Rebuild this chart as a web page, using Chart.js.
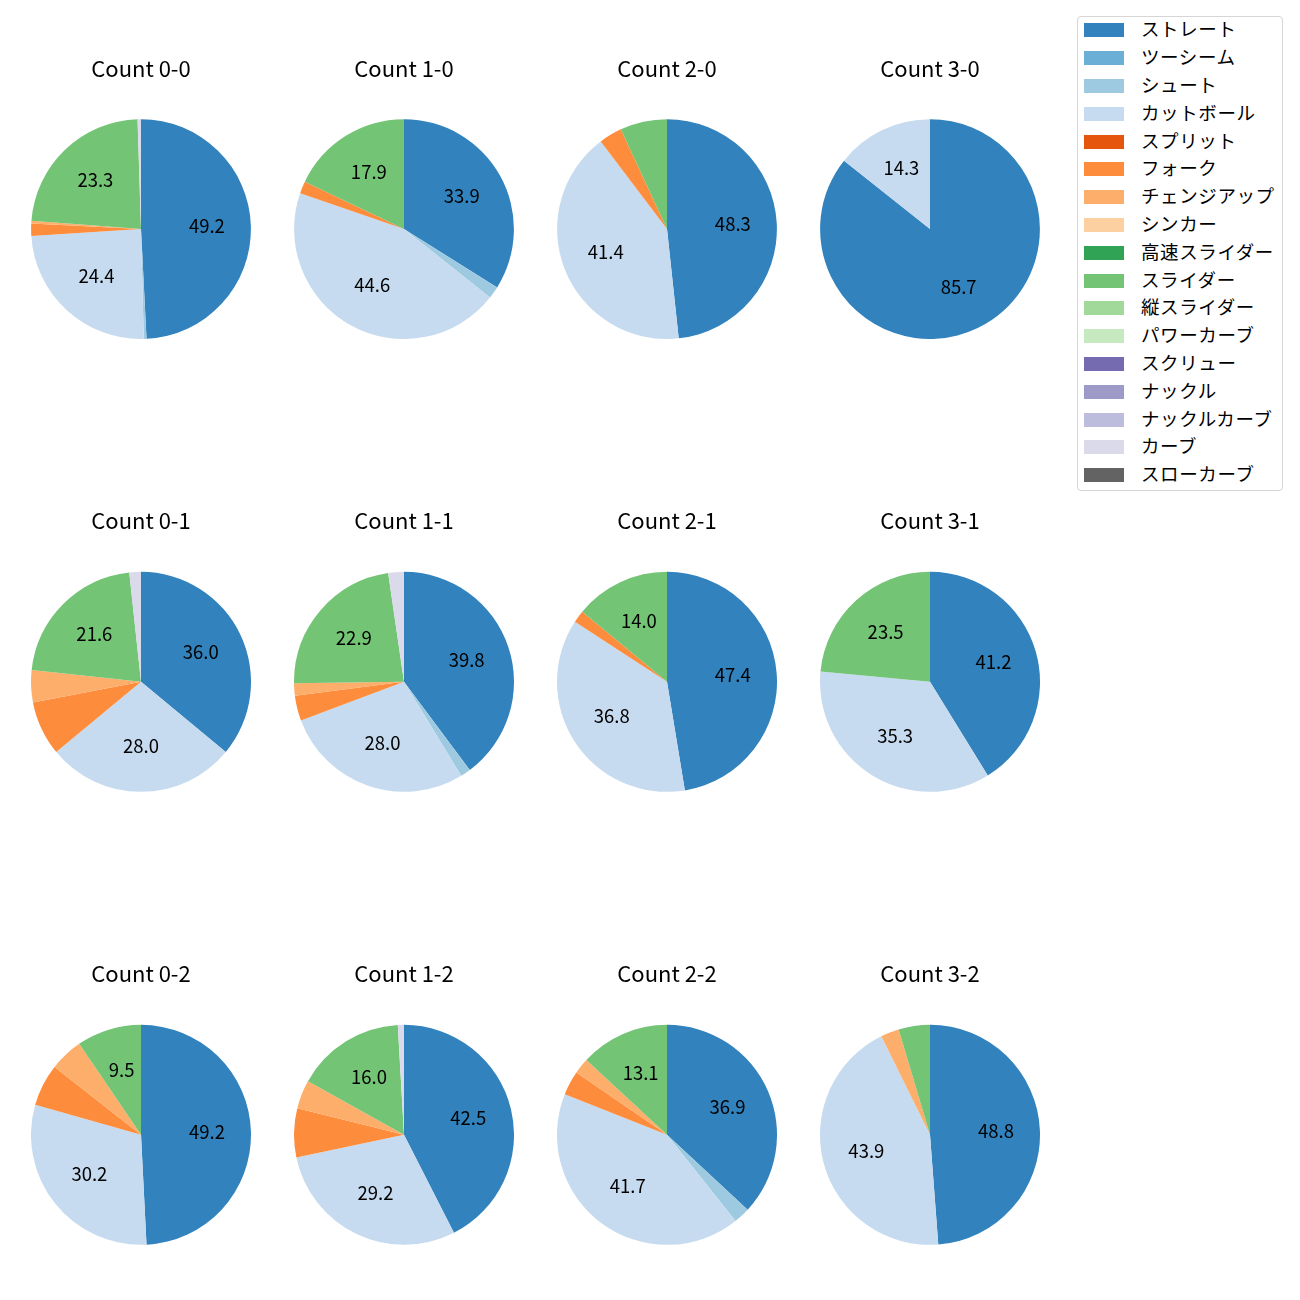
<!DOCTYPE html>
<html>
<head>
<meta charset="utf-8">
<script src="https://cdn.jsdelivr.net/npm/chart.js@4"></script>
<style>
  html, body { margin: 0; padding: 0; background: #fff; }
  body { width: 1300px; height: 1300px; position: relative; overflow: hidden;
         font-family: "Noto Sans CJK JP", "Noto Sans", sans-serif; }
  .pie { position: absolute; }
  #legend { position: absolute; left: 1077px; top: 16px; width: 204px; height: 473px;
            border: 1px solid #d6d6d6; border-radius: 4px; background: #fff; }
  .lrow { position: absolute; left: 0; height: 0; }
  .sw { position: absolute; left: 6px; width: 40px; height: 14px; top: -7px; }
  .lt { position: absolute; left: 63px; top: -16px; height: 28px; line-height: 28px;
        font-size: 18.5px; letter-spacing: 0.6px; color: #000; white-space: nowrap; }
</style>
</head>
<body>
<div id="legend"></div>
<script>
// ---- data ----
const pitchTypes = ["ストレート","ツーシーム","シュート","カットボール","スプリット","フォーク","チェンジアップ","シンカー","高速スライダー","スライダー","縦スライダー","パワーカーブ","スクリュー","ナックル","ナックルカーブ","カーブ","スローカーブ"];
const pitchColors = ["#3182bd","#6baed6","#9ecae1","#c6dbef","#e6550d","#fd8d3c","#fdae6b","#fdd0a2","#31a354","#74c476","#a1d99b","#c7e9c0","#756bb1","#9e9ac8","#bcbddc","#dadaeb","#636363"];
const countTitles = ["Count 0-0","Count 1-0","Count 2-0","Count 3-0","Count 0-1","Count 1-1","Count 2-1","Count 3-1","Count 0-2","Count 1-2","Count 2-2","Count 3-2"];
const count00 = [49.2,0,0.4,24.4,0,1.8,0.4,0,0,23.3,0,0,0,0,0,0.5,0];
const count10 = [33.9,0,1.8,44.6,0,1.8,0,0,0,17.9,0,0,0,0,0,0,0];
const count20 = [48.3,0,0,41.4,0,3.4,0,0,0,6.9,0,0,0,0,0,0,0];
const count30 = [85.7,0,0,14.3,0,0,0,0,0,0,0,0,0,0,0,0,0];
const count01 = [36.0,0,0,28.0,0,8.0,4.7,0,0,21.6,0,0,0,0,0,1.7,0];
const count11 = [39.8,0,1.5,28.0,0,3.7,1.8,0,0,22.9,0,0,0,0,0,2.3,0];
const count21 = [47.4,0,0,36.8,0,1.8,0,0,0,14.0,0,0,0,0,0,0,0];
const count31 = [41.2,0,0,35.3,0,0,0,0,0,23.5,0,0,0,0,0,0,0];
const count02 = [49.2,0,0,30.2,0,6.2,4.9,0,0,9.5,0,0,0,0,0,0,0];
const count12 = [42.5,0,0,29.2,0,7.2,4.2,0,0,16.0,0,0,0,0,0,0.9,0];
const count22 = [36.9,0,2.4,41.7,0,3.6,2.3,0,0,13.1,0,0,0,0,0,0,0];
const count32 = [48.8,0,0,43.9,0,0,2.7,0,0,4.6,0,0,0,0,0,0,0];
const countData = [count00,count10,count20,count30,count01,count11,count21,count31,count02,count12,count22,count32];
const labelThreshold = 9;

// ---- layout ----
const colX = [141, 404, 667, 930];
const rowTitleY = [68, 520.5, 973];
const rowCenterY = [229, 682, 1134.5];
const R = 110;
const FONT = '"Noto Sans CJK JP", "Noto Sans", sans-serif';

const pctPlugin = {
  id: 'pctLabels',
  afterDatasetsDraw(chart) {
    const ctx = chart.ctx;
    const meta = chart.getDatasetMeta(0);
    const vals = chart.data.datasets[0].data;
    ctx.save();
    ctx.font = '18.5px ' + FONT;
    ctx.fillStyle = '#000';
    ctx.textAlign = 'center';
    ctx.textBaseline = 'middle';
    meta.data.forEach((arc, i) => {
      const v = vals[i];
      if (v < labelThreshold) return;
      const mid = (arc.startAngle + arc.endAngle) / 2;
      const r = arc.outerRadius * 0.6;
      ctx.fillText(v.toFixed(1), arc.x + Math.cos(mid) * r, arc.y + Math.sin(mid) * r - 1.5);
    });
    ctx.restore();
  }
};

const titleSize = 22;
const titleLine = titleSize * 1.2;
countData.forEach((vals, k) => {
  const col = k % 4, row = Math.floor(k / 4);
  const top = rowTitleY[row] - titleLine / 2;
  const padBottom = (rowCenterY[row] - R) - (rowTitleY[row] + titleLine / 2);
  const height = Math.round(titleLine + padBottom + 2 * R);
  const cv = document.createElement('canvas');
  cv.className = 'pie';
  cv.style.left = (colX[col] - R) + 'px';
  cv.style.top = top + 'px';
  cv.style.width = (2 * R) + 'px';
  cv.style.height = height + 'px';
  document.body.appendChild(cv);
  new Chart(cv, {
    type: 'pie',
    data: {
      labels: pitchTypes,
      datasets: [{ data: vals, backgroundColor: pitchColors, borderWidth: 0, hoverOffset: 0 }]
    },
    options: {
      responsive: false,
      maintainAspectRatio: false,
      animation: false,
      events: [],
      layout: { padding: 0 },
      plugins: {
        legend: { display: false },
        tooltip: { enabled: false },
        title: {
          display: true, text: countTitles[k], color: '#000',
          font: { family: FONT, size: titleSize, weight: 'normal', lineHeight: 1.2 },
          padding: { top: 0, bottom: padBottom }
        }
      }
    },
    plugins: [pctPlugin]
  });
});

// ---- legend ----
const legend = document.getElementById('legend');
pitchTypes.forEach((name, i) => {
  const row = document.createElement('div');
  row.className = 'lrow';
  row.style.top = (13.3 + i * 27.8) + 'px';
  const sw = document.createElement('div');
  sw.className = 'sw';
  sw.style.background = pitchColors[i];
  const t = document.createElement('div');
  t.className = 'lt';
  t.textContent = name;
  row.appendChild(sw); row.appendChild(t);
  legend.appendChild(row);
});
</script>
</body>
</html>
